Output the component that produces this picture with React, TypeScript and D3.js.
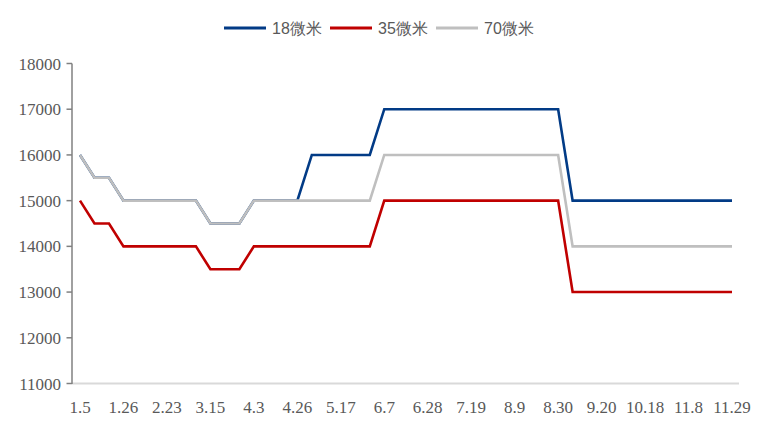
import * as d3 from 'd3'

const DATES = [
  '1.5', '1.12', '1.19', '1.26', '2.2', '2.8', '2.23', '3.1', '3.8', '3.15',
  '3.22', '3.29', '4.3', '4.12', '4.19', '4.26', '4.30', '5.10', '5.17', '5.24',
  '5.31', '6.7', '6.14', '6.21', '6.28', '7.5', '7.12', '7.19', '7.26', '8.2',
  '8.9', '8.16', '8.23', '8.30', '9.6', '9.13', '9.20', '9.27', '10.11', '10.18',
  '10.25', '11.1', '11.8', '11.15', '11.22', '11.29',
]

const S18 = [
  16000, 15500, 15500, 15000, 15000, 15000, 15000, 15000, 15000, 14500,
  14500, 14500, 15000, 15000, 15000, 15000, 16000, 16000, 16000, 16000,
  16000, 17000, 17000, 17000, 17000, 17000, 17000, 17000, 17000, 17000,
  17000, 17000, 17000, 17000, 15000, 15000, 15000, 15000, 15000, 15000,
  15000, 15000, 15000, 15000, 15000, 15000,
]

const S35 = [
  15000, 14500, 14500, 14000, 14000, 14000, 14000, 14000, 14000, 13500,
  13500, 13500, 14000, 14000, 14000, 14000, 14000, 14000, 14000, 14000,
  14000, 15000, 15000, 15000, 15000, 15000, 15000, 15000, 15000, 15000,
  15000, 15000, 15000, 15000, 13000, 13000, 13000, 13000, 13000, 13000,
  13000, 13000, 13000, 13000, 13000, 13000,
]

const S70 = [
  16000, 15500, 15500, 15000, 15000, 15000, 15000, 15000, 15000, 14500,
  14500, 14500, 15000, 15000, 15000, 15000, 15000, 15000, 15000, 15000,
  15000, 16000, 16000, 16000, 16000, 16000, 16000, 16000, 16000, 16000,
  16000, 16000, 16000, 16000, 14000, 14000, 14000, 14000, 14000, 14000,
  14000, 14000, 14000, 14000, 14000, 14000,
]

const Y_TICKS = [11000, 12000, 13000, 14000, 15000, 16000, 17000, 18000]

const SERIES = [
  { name: '18微米', values: S18, color: '#023b86' },
  { name: '35微米', values: S35, color: '#c00000' },
  { name: '70微米', values: S70, color: '#bfbfbf' },
]

const W = 768
const H = 441

export default function App() {
  const x = d3.scalePoint<string>().domain(DATES).range([80, 732])
  const y = d3.scaleLinear().domain([11000, 18000]).range([383.5, 63.5])
  const line = d3.line<number>()
    .x((_, i) => x(DATES[i]) as number)
    .y(d => y(d))

  const legendX = [224, 330, 436]

  return (
    <div style={{ position: 'fixed', left: 0, top: 0, width: W, height: H, background: '#fff' }}>
      <svg width={W} height={H}>
        {/* legend */}
        {SERIES.map((s, i) => (
          <g key={s.name} transform={`translate(${legendX[i]},28)`}>
            <line x1={0} x2={42} y1={0} y2={0} stroke={s.color} strokeWidth={3} />
            <text x={48} y={6} fontFamily="'Liberation Sans', Arial, sans-serif" fontSize={16} fill="#595959">
              {s.name}
            </text>
          </g>
        ))}

        {/* x axis */}
        <line x1={72} x2={739} y1={383.5} y2={383.5} stroke="#d9d9d9" strokeWidth={2} />
        {DATES.map((d, i) => i % 3 === 0 && (
          <text key={d} x={x(d)} y={413} textAnchor="middle"
            fontFamily="'Liberation Serif', 'Times New Roman', serif" fontSize={17} fill="#595959">
            {d}
          </text>
        ))}

        {/* y axis */}
        <line x1={72} x2={72} y1={63.5} y2={384} stroke="#808080" strokeWidth={1.5} />
        {Y_TICKS.map(t => (
          <g key={t} transform={`translate(0,${y(t)})`}>
            <line x1={66.5} x2={72} stroke="#808080" strokeWidth={1.5} />
            <text x={61} y={6} textAnchor="end"
              fontFamily="'Liberation Serif', 'Times New Roman', serif" fontSize={17} fill="#595959">
              {t}
            </text>
          </g>
        ))}

        {/* lines */}
        {SERIES.map(s => (
          <path key={s.name} d={line(s.values) ?? ''} fill="none" stroke={s.color}
            strokeWidth={2.6} strokeLinejoin="miter" />
        ))}
      </svg>
    </div>
  )
}
